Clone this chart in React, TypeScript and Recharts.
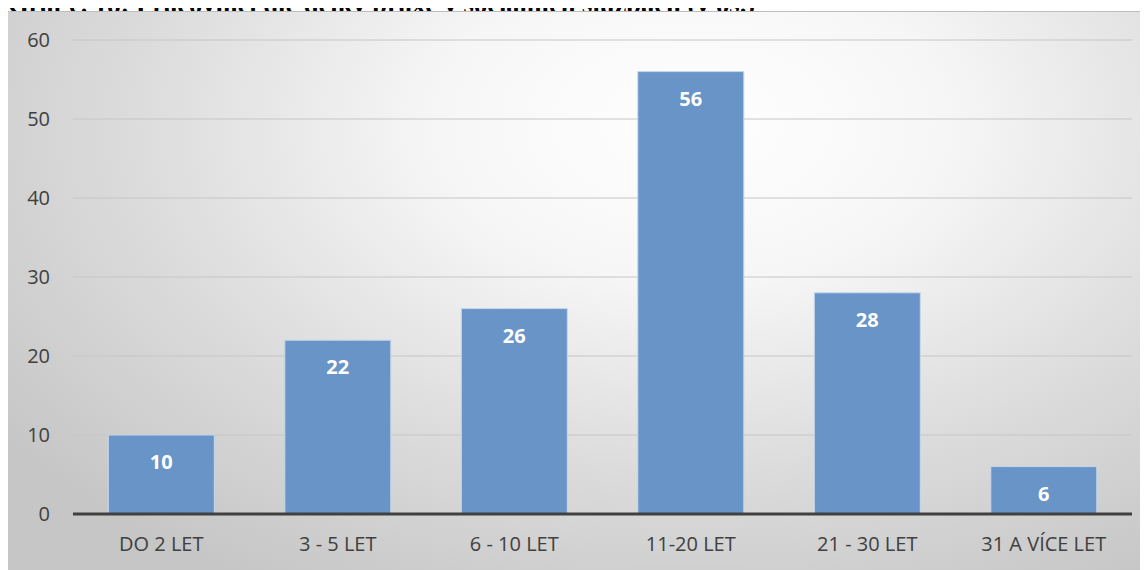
import React from "react";
import { BarChart, Bar, XAxis, YAxis, CartesianGrid, LabelList } from "recharts";

const categories = ["DO 2 LET", "3 - 5 LET", "6 - 10 LET", "11-20 LET", "21 - 30 LET", "31 A VÍCE LET"];
const workers = [10, 22, 26, 56, 28, 6];
const yTicks = [0, 10, 20, 30, 40, 50, 60];

const data = categories.map((name, i) => ({ name, value: workers[i] }));

const font = "'Open Sans', 'Noto Sans', sans-serif";

export default function App() {
  return (
    <div style={{ position: "relative", width: 1140, height: 562 }}>
      <div
        style={{
          position: "absolute",
          left: 0,
          top: -17,
          fontFamily: "'Liberation Serif', 'Times New Roman', serif",
          fontWeight: "bold",
          fontSize: 26.5,
          lineHeight: "26.5px",
          whiteSpace: "nowrap",
          color: "#000",
        }}
      >
        Graf č. 18: Pracovníci dle délky praxe v sociálních službách (v os.)
      </div>
      <div
        style={{
          position: "absolute",
          left: 0,
          top: 3,
          width: 1140,
          height: 559,
          borderTop: "1px solid #bdbdbd",
          background:
            "radial-gradient(ellipse 75% 95% at 60% 20%, #ffffff 0%, #f6f6f6 30%, #dcdcdc 65%, #c6c6c6 100%)",
        }}
      >
        <BarChart
          width={1140}
          height={558}
          data={data}
          margin={{ top: 28, right: 16, left: 15, bottom: 26 }}
          barCategoryGap="20%"
        >
          <CartesianGrid vertical={false} stroke="#c6c6c6" strokeWidth={1} />
          <XAxis
            dataKey="name"
            height={30}
            axisLine={{ stroke: "#404040", strokeWidth: 3 }}
            tickLine={false}
            tickSize={0}
            tickMargin={23}
            tick={{ fill: "#404040", fontSize: 20, fontFamily: font }}
            interval={0}
          />
          <YAxis
            width={50}
            domain={[0, 60]}
            ticks={yTicks}
            axisLine={false}
            tickLine={false}
            tickSize={0}
            tickMargin={23}
            tick={{ fill: "#404040", fontSize: 20, fontFamily: font }}
          />
          <Bar dataKey="value" fill="#6894c8" stroke="#c9d7ea" strokeWidth={1} isAnimationActive={false}>
            <LabelList
              dataKey="value"
              position="insideTop"
              offset={20}
              fill="#ffffff"
              fontSize={20}
              fontWeight="bold"
              fontFamily={font}
            />
          </Bar>
        </BarChart>
      </div>
    </div>
  );
}
